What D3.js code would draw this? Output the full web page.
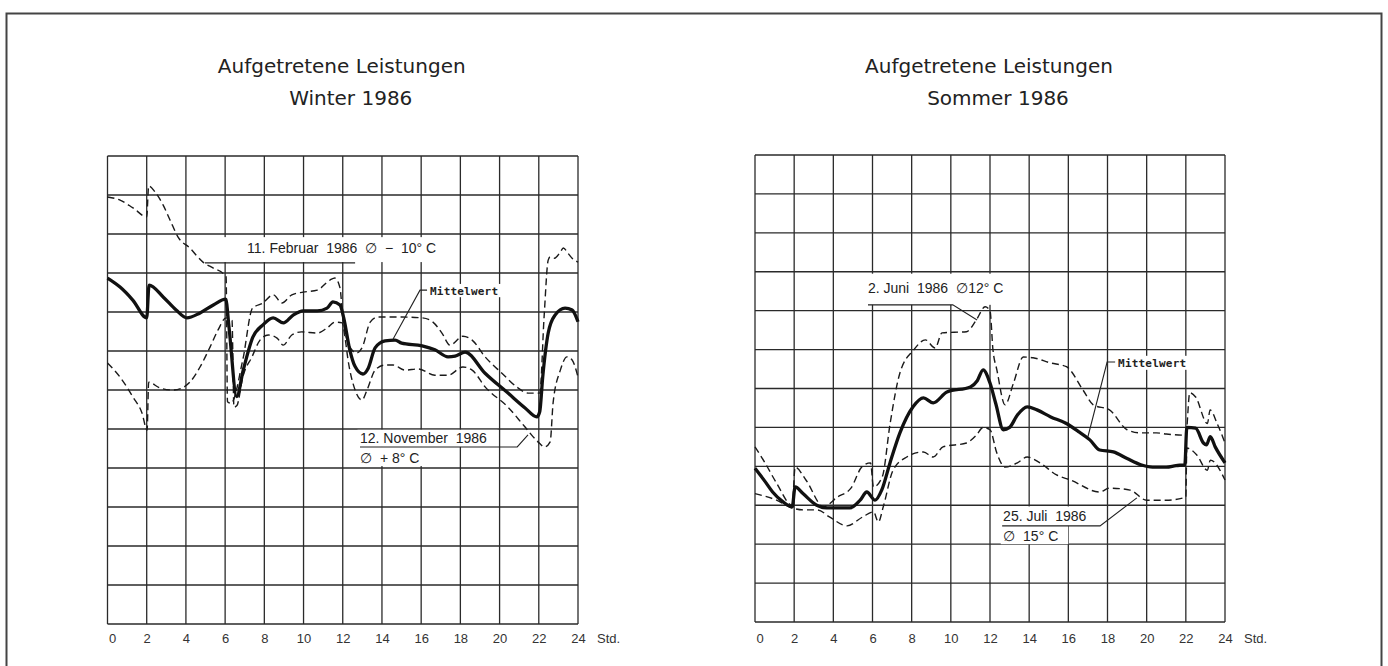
<!DOCTYPE html>
<html><head><meta charset="utf-8">
<script src="https://cdn.jsdelivr.net/npm/d3@7"></script>
<style>
body{margin:0;background:#fff;}
svg{display:block;}
.title{font-family:"DejaVu Sans",sans-serif;font-size:20px;fill:#222;}
.ann{font-family:"Liberation Sans","DejaVu Sans",Arial,sans-serif;font-size:14px;fill:#222;white-space:pre;}
.mw{font-family:"DejaVu Sans Mono",monospace;font-size:11px;font-weight:bold;fill:#222;letter-spacing:0.2px;}
.tick text{font-family:"Liberation Sans",Arial,sans-serif;font-size:13px;fill:#333;}
</style></head><body>
<svg id="c" width="1388" height="666"></svg>
<script>
// ---------- data ----------
const hourTicks = [0,2,4,6,8,10,12,14,16,18,20,22,24];
const gridRows = [0,1,2,3,4,5,6,7,8,9,10,11,12];
const winterTitle = ["Aufgetretene Leistungen","Winter 1986"];
const summerTitle = ["Aufgetretene Leistungen","Sommer 1986"];

// Winter: Mittelwert (thick)
const winterMean = [[0,8.87],[0.64,8.64],[1.3,8.3],[2,7.85],[2.12,8.69],[2.85,8.38],[3.5,8.05],[4.05,7.85],[4.7,7.97],[5.4,8.18],[6.03,8.33],[6.2,7.6],[6.59,5.83],[6.92,6.5],[7.42,7.36],[7.93,7.67],[8.45,7.85],[8.97,7.72],[9.47,7.92],[9.98,8.03],[10.7,8.03],[11.2,8.1],[11.5,8.26],[11.86,8.18],[12.05,7.85],[12.35,7.05],[12.63,6.6],[13.03,6.41],[13.3,6.56],[13.65,7.08],[14.16,7.26],[14.67,7.28],[15.0,7.2],[16.05,7.13],[16.7,7.03],[17.37,6.85],[17.73,6.87],[18.24,6.97],[19.26,6.43],[20.43,5.92],[21.3,5.54],[21.9,5.31],[22.05,5.45],[22.2,6.33],[22.48,7.46],[22.83,7.92],[23.34,8.1],[23.7,8.05],[24,7.75]];
// Winter: 11. Februar 1986 (dashed, upper)
const winterFeb = [[0,10.95],[0.64,10.87],[1.3,10.67],[2,10.44],[2.1,11.23],[2.42,11.08],[2.84,10.74],[3.19,10.36],[3.6,9.92],[4.2,9.64],[4.87,9.28],[5.38,9.13],[5.94,8.97],[6.05,8.9],[6.12,5.7],[6.3,5.66],[6.9,6.77],[7.4,8.1],[7.93,8.23],[8.45,8.44],[8.9,8.23],[9.4,8.44],[9.98,8.51],[10.7,8.56],[11.35,8.82],[11.6,8.87],[11.86,8.62],[12.0,7.87],[12.37,7.1],[12.7,6.95],[13.0,7.1],[13.4,7.74],[13.8,7.87],[15,7.87],[16.05,7.85],[16.6,7.74],[17.06,7.46],[17.47,7.15],[18.13,7.38],[18.6,7.28],[19.26,6.85],[20.12,6.43],[20.95,6.05],[21.46,5.92],[22.05,5.92],[22.27,7.87],[22.48,9.33],[22.58,9.41],[22.8,9.38],[23.1,9.54],[23.25,9.64],[23.5,9.5],[23.7,9.38],[24,9.28]];
// Winter: 12. November 1986 (dashed, lower)
const winterNov = [[0,6.69],[0.64,6.33],[1.3,5.82],[1.76,5.41],[2.02,4.97],[2.1,6.2],[2.68,6.05],[3.34,6.0],[3.8,6.05],[4.2,6.2],[4.72,6.59],[5.23,7.1],[5.64,7.54],[6.05,7.85],[6.35,7.79],[6.45,5.56],[6.6,5.6],[6.9,6.33],[7.37,6.85],[7.78,7.28],[8.2,7.41],[8.65,7.33],[8.97,7.15],[9.4,7.41],[9.9,7.49],[10.7,7.46],[11.2,7.59],[11.6,7.74],[11.97,7.72],[12.1,7.4],[12.27,6.77],[12.63,6.0],[12.98,5.74],[13.24,6.0],[13.65,6.51],[14.16,6.64],[14.57,6.64],[15.18,6.51],[15.85,6.54],[16.7,6.38],[17.37,6.38],[18.13,6.59],[18.6,6.51],[19.26,6.08],[20.43,5.56],[21.3,5.05],[21.96,4.67],[22.3,4.54],[22.58,4.67],[22.73,5.67],[23.1,6.51],[23.44,6.85],[23.7,6.77],[24,6.33]];

// Summer: Mittelwert (thick)
const summerMean = [[0,3.95],[0.5,3.62],[0.9,3.34],[1.4,3.1],[1.9,2.96],[2.05,3.47],[2.45,3.3],[3.15,3.0],[3.66,2.93],[4.85,2.93],[5.37,3.13],[5.71,3.34],[6.13,3.13],[6.48,3.4],[6.9,4.1],[7.4,4.86],[8.07,5.53],[8.6,5.76],[9.1,5.63],[9.8,5.91],[11,6.04],[11.35,6.2],[11.65,6.48],[12,6.14],[12.3,5.6],[12.68,4.94],[13,5.0],[13.4,5.32],[13.9,5.53],[14.4,5.45],[15.1,5.27],[15.9,5.1],[16.5,4.9],[17.1,4.68],[17.6,4.42],[18.3,4.37],[19,4.2],[19.7,4.04],[20.3,3.98],[21,3.98],[21.5,4.02],[21.95,4.04],[22.05,5.0],[22.5,4.98],[22.9,4.6],[23.05,4.55],[23.25,4.76],[23.5,4.5],[24,4.09]];
// Summer: 2. Juni 1986 (dashed, upper)
const summerJuni = [[0,4.5],[0.5,4.1],[1.1,3.57],[1.9,3.0],[2.05,3.98],[2.6,3.65],[3.5,2.96],[4.2,3.21],[4.9,3.44],[5.45,3.98],[5.9,4.09],[6.05,3.47],[6.5,3.73],[6.9,5.1],[7.4,6.4],[8.1,6.99],[8.7,7.25],[9.2,7.04],[9.55,7.43],[10.8,7.46],[11.3,7.76],[11.75,8.1],[12,8.0],[12.15,7.0],[12.35,6.48],[12.77,5.58],[13.2,6.14],[13.7,6.81],[14.2,6.79],[15.07,6.66],[15.9,6.56],[16.75,5.96],[17.27,5.58],[18.1,5.45],[19,4.94],[19.66,4.86],[20.5,4.86],[21,4.83],[22,4.8],[22.2,5.89],[22.5,5.78],[23.1,5.1],[23.24,5.45],[23.6,5.1],[24,4.6]];
// Summer: 25. Juli 1986 (dashed, lower)
const summerJuli = [[0,3.3],[1.1,3.13],[1.9,2.93],[2.5,2.88],[3.2,2.88],[3.8,2.7],[4.7,2.47],[5.5,2.7],[6.05,2.83],[6.3,2.57],[6.55,2.96],[7.05,3.9],[7.75,4.24],[8.6,4.37],[9.1,4.24],[9.6,4.5],[10.8,4.6],[11.3,4.8],[11.65,5.0],[12,4.94],[12.35,4.34],[12.77,3.98],[13.4,4.09],[13.9,4.24],[14.55,4.09],[15.4,3.78],[16.1,3.65],[17.6,3.34],[18.1,3.44],[19.15,3.39],[20,3.13],[21,3.13],[22,3.21],[22.05,4.47],[22.55,4.3],[23.1,3.9],[23.25,4.16],[24,3.65]];

const labelFeb = "11. Februar  1986  \u2205  \u2212  10\u00B0 C";
const labelNov = ["12. November  1986", "\u2205  + 8\u00B0 C"];
const labelJuni = "2. Juni  1986  \u220512\u00B0 C";
const labelJuli = ["25. Juli  1986", "\u2205  15\u00B0 C"];
const labelMean = "Mittelwert";
const unitLabel = "Std.";

// ---------- drawing ----------
const svg = d3.select("#c");
svg.append("rect").attr("x",6.5).attr("y",13.5).attr("width",1375).attr("height",700)
  .attr("fill","none").attr("stroke","#444").attr("stroke-width",2);

const panels = [
  {left:107.5,right:578,top:156,bottom:624,title:winterTitle,t1dx:-1,t2dx:8,
   series:[winterFeb,winterNov],mean:winterMean,
   anns:[
     {lines:[labelFeb],cls:"ann",at:[7.12,9.51],lh:0,boxes:[[5.8,17.1,9.28,9.92]],
      leader:[[4.97,9.26],[12.63,9.26]]},
     {lines:[labelMean],cls:"mw",at:[16.45,8.44],lh:0,boxes:[[16.25,20.1,8.38,8.72]],
      leader:[[16.3,8.56],[15.94,8.56],[14.57,7.31]]},
     {lines:labelNov,cls:"ann",at:[12.88,4.64],lh:0.51,boxes:[[12.75,19.9,4.54,4.98],[12.75,16.55,4.05,4.54]],
      leader:[[12.88,4.54],[20.9,4.54],[21.45,4.85]]}
   ]},
  {left:755,right:1225,top:155,bottom:622,title:summerTitle,t1dx:-1,t2dx:8,
   series:[summerJuni,summerJuli],mean:summerMean,
   anns:[
     {lines:[labelJuni],cls:"ann",at:[5.77,8.46],lh:0,boxes:[[5.6,13.1,8.15,8.95]],
      leader:[[5.77,8.15],[10.1,8.15],[11.34,7.76]]},
     {lines:[labelMean],cls:"mw",at:[18.54,6.56],lh:0,boxes:[[18.4,22.2,6.48,6.84]],
      leader:[[18.39,6.68],[17.98,6.68],[17.0,4.76]]},
     {lines:labelJuli,cls:"ann",at:[12.67,2.6],lh:0.51,boxes:[[12.55,17.5,2.47,2.97],[12.55,16.0,2.0,2.47]],
      leader:[[12.62,2.47],[17.62,2.47],[19.5,3.19]]}
   ]}
];

panels.forEach(p => {
  const x = d3.scaleLinear().domain([0,24]).range([p.left,p.right]);
  const y = d3.scaleLinear().domain([0,12]).range([p.bottom,p.top]);
  const g = svg.append("g");
  const cx = (p.left+p.right)/2;
  g.append("text").attr("class","title").attr("x",cx+p.t1dx).attr("y",73).attr("text-anchor","middle").text(p.title[0]);
  g.append("text").attr("class","title").attr("x",cx+p.t2dx).attr("y",105).attr("text-anchor","middle").text(p.title[1]);

  // grid
  g.append("g").selectAll("line").data(hourTicks).join("line")
    .attr("x1",d=>x(d)).attr("x2",d=>x(d)).attr("y1",y(12)).attr("y2",y(0))
    .attr("stroke","#2a2a2a").attr("stroke-width",1.3);
  g.append("g").selectAll("line").data(gridRows).join("line")
    .attr("y1",d=>y(d)).attr("y2",d=>y(d)).attr("x1",x(0)).attr("x2",x(24))
    .attr("stroke","#2a2a2a").attr("stroke-width",1.3);

  // axis labels
  const ax = g.append("g").attr("transform",`translate(0,${p.bottom})`)
    .call(d3.axisBottom(x).tickValues(hourTicks).tickSize(0).tickFormat(d3.format("d")));
  ax.select(".domain").remove();
  ax.selectAll("text").attr("y",643-p.bottom).attr("dy",null);
  ax.selectAll(".tick").filter(d=>d===0).select("text").attr("text-anchor","start").attr("x",1);
  g.append("text").attr("x",x(24)+19).attr("y",643)
    .attr("font-family","Liberation Sans, Arial, sans-serif").attr("font-size",13).attr("fill","#333").text(unitLabel);

  // label backgrounds
  p.anns.forEach(a => a.boxes.forEach(b => {
    g.append("rect").attr("x",x(b[0])).attr("y",y(b[3]))
      .attr("width",x(b[1])-x(b[0])).attr("height",y(b[2])-y(b[3])).attr("fill","#fff");
  }));

  // curves
  const line = d3.line().x(d=>x(d[0])).y(d=>y(d[1])).curve(d3.curveMonotoneX);
  p.series.forEach(s => g.append("path").attr("d",line(s)).attr("fill","none")
    .attr("stroke","#1a1a1a").attr("stroke-width",1.4).attr("stroke-dasharray","7,4"));
  g.append("path").attr("d",line(p.mean)).attr("fill","none")
    .attr("stroke","#111").attr("stroke-width",3.3).attr("stroke-linejoin","round");

  // annotations
  const lin = d3.line().x(d=>x(d[0])).y(d=>y(d[1]));
  p.anns.forEach(a => {
    g.append("path").attr("d",lin(a.leader)).attr("fill","none").attr("stroke","#222").attr("stroke-width",1.1);
    a.lines.forEach((t,i) => {
      g.append("text").attr("class",a.cls).attr("x",x(a.at[0])).attr("y",y(a.at[1]-i*a.lh)).text(t);
    });
  });
});
</script>
</body></html>
